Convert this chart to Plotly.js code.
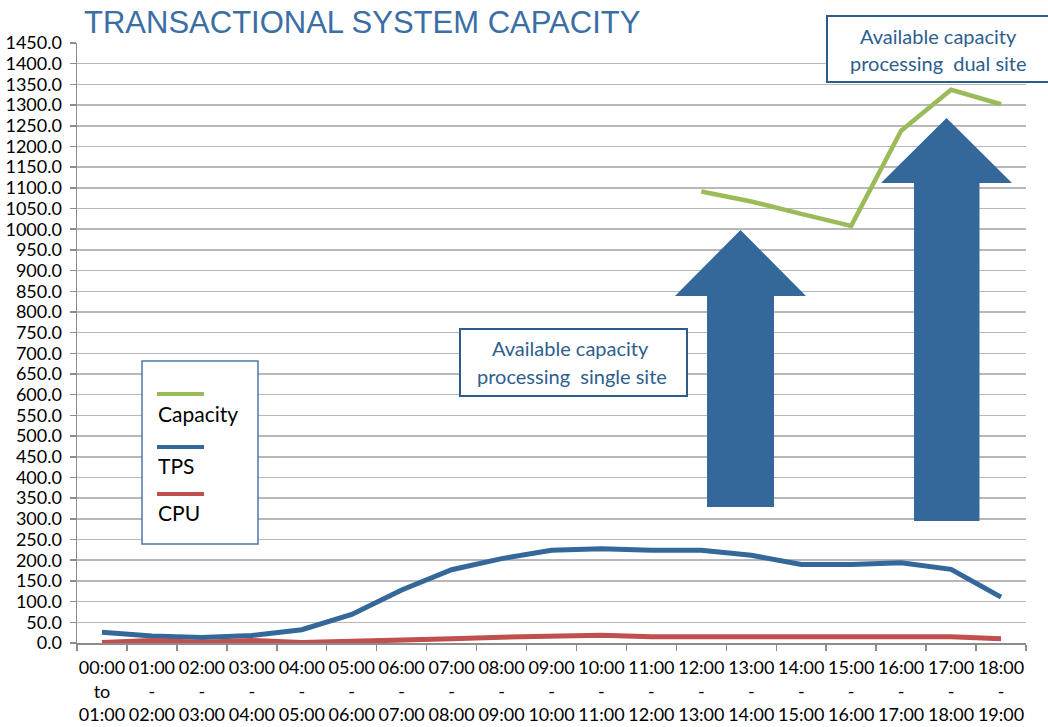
<!DOCTYPE html>
<html>
<head>
<meta charset="utf-8">
<script src="https://cdn.plot.ly/plotly-3.0.1.min.js"></script>
<style>
html,body{margin:0;padding:0;background:#fff;}
#chart{width:1048px;height:727px;}
</style>
</head>
<body>
<div id="chart"></div>
<script>
// ---- data ----
const categories = [
  "00:00<br>to<br>01:00","01:00<br>-<br>02:00","02:00<br>-<br>03:00","03:00<br>-<br>04:00",
  "04:00<br>-<br>05:00","05:00<br>-<br>06:00","06:00<br>-<br>07:00","07:00<br>-<br>08:00",
  "08:00<br>-<br>09:00","09:00<br>-<br>10:00","10:00<br>-<br>11:00","11:00<br>-<br>12:00",
  "12:00<br>-<br>13:00","13:00<br>-<br>14:00","14:00<br>-<br>15:00","15:00<br>-<br>16:00",
  "16:00<br>-<br>17:00","17:00<br>-<br>18:00","18:00<br>-<br>19:00"
];
const capacity = [null,null,null,null,null,null,null,null,null,null,null,null,
  1091,1067,1037,1008,1238,1337,1302];
const tps = [26,17,13,18,32,69,128,177,204,224,228,224,224,212,190,190,194,178,111];
const cpu = [1,6,2,6,1,5,9,10,14,15,19,15,15,15,15,15,15,15,10];
const yTickMin = 0, yTickMax = 1450, yTickStep = 50;

// ---- layout geometry (pixels) ----
const W = 1048, H = 727;
const L = 77, R = 1026, T = 43, B = 643;
const px = x => (x - L) / (R - L);
const py = y => (B - y) / (B - T);
const FONT = "Lato, 'Open Sans', sans-serif";
const BLUE = "#34679A";

function arrowPath(tipX, tipY, headL, headR, headY, bodyL, bodyR, bottom) {
  const pts = [[tipX,tipY],[headR,headY],[bodyR,headY],[bodyR,bottom],[bodyL,bottom],[bodyL,headY],[headL,headY]];
  return "M" + pts.map(p => px(p[0]).toFixed(5) + "," + py(p[1]).toFixed(5)).join(" L") + " Z";
}

const traces = [
  {x: categories, y: tps, name: "TPS", type: "scatter", mode: "lines",
   line: {color: BLUE, width: 5}},
  {x: categories, y: cpu, name: "CPU", type: "scatter", mode: "lines",
   line: {color: "#C0504D", width: 5}},
  {x: categories, y: capacity, name: "Capacity", type: "scatter", mode: "lines",
   connectgaps: false, line: {color: "#9BBB59", width: 4.5}}
];

const shapes = [
  // arrows
  {type: "path", xref: "paper", yref: "paper", layer: "above",
   path: arrowPath(740.5, 230, 675, 806, 296, 707, 774, 507),
   fillcolor: BLUE, line: {width: 0}},
  {type: "path", xref: "paper", yref: "paper", layer: "above",
   path: arrowPath(946.5, 118, 881, 1012, 183, 914, 979.5, 521),
   fillcolor: BLUE, line: {width: 0}},
  // text boxes
  {type: "rect", xref: "paper", yref: "paper", layer: "above",
   x0: px(460), x1: px(687), y0: py(329), y1: py(396),
   fillcolor: "#fff", line: {color: "#2C5C8C", width: 2}},
  {type: "rect", xref: "paper", yref: "paper", layer: "above",
   x0: px(827), x1: px(1054), y0: py(16), y1: py(82),
   fillcolor: "#fff", line: {color: "#2C5C8C", width: 2}},
  // legend box
  {type: "rect", xref: "paper", yref: "paper", layer: "above",
   x0: px(142), x1: px(258), y0: py(361), y1: py(544),
   fillcolor: "#fff", line: {color: "#4A78A8", width: 1.5}},
  {type: "line", xref: "paper", yref: "paper", layer: "above",
   x0: px(157), x1: px(204), y0: py(394), y1: py(394), line: {color: "#9BBB59", width: 4}},
  {type: "line", xref: "paper", yref: "paper", layer: "above",
   x0: px(157), x1: px(204), y0: py(447), y1: py(447), line: {color: BLUE, width: 4}},
  {type: "line", xref: "paper", yref: "paper", layer: "above",
   x0: px(157), x1: px(204), y0: py(494), y1: py(494), line: {color: "#C0504D", width: 4}}
];

function txt(text, x, y, size, color, xanchor) {
  return {text: text, xref: "paper", yref: "paper", x: px(x), y: py(y),
    xanchor: xanchor || "center", yanchor: "middle", showarrow: false,
    font: {family: FONT, size: size, color: color}};
}

const annotations = [
  {text: "TRANSACTIONAL SYSTEM CAPACITY", xref: "paper", yref: "paper",
   x: px(82), y: py(22), xanchor: "left", yanchor: "middle", showarrow: false,
   font: {family: "'Liberation Sans Narrow', 'Liberation Sans', sans-serif", size: 31, color: "#3A6EA5"}},
  txt("Available capacity", 570, 348, 20, "#2E5E8E"),
  txt("processing&nbsp; single site", 572, 376, 20, "#2E5E8E"),
  txt("Available capacity", 938, 36, 20, "#2E5E8E"),
  txt("processing&nbsp; dual site", 938, 63, 20, "#2E5E8E"),
  txt("Capacity", 156, 413, 21, "#000", "left"),
  txt("TPS", 156, 465, 21, "#000", "left"),
  txt("CPU", 156, 512, 21, "#000", "left")
];

const layout = {
  width: W, height: H,
  margin: {l: L, r: W - R, t: T, b: H - B, pad: 0},
  paper_bgcolor: "#fff", plot_bgcolor: "#fff",
  showlegend: false,
  font: {family: FONT, size: 18, color: "#000"},
  xaxis: {
    type: "category", range: [-0.5, categories.length - 0.5],
    showgrid: false, zeroline: false,
    showline: true, linecolor: "#8C8C8C", linewidth: 1.5,
    ticks: "outside", tickson: "boundaries", ticklen: 6, tickcolor: "#8C8C8C", tickwidth: 1.5,
    tickfont: {family: FONT, size: 18, color: "#000"}, tickangle: 0,
    ticklabelstandoff: 8,
    fixedrange: true
  },
  yaxis: {
    range: [yTickMin, yTickMax], autorange: false,
    tickmode: "linear", tick0: yTickMin, dtick: yTickStep, tickformat: ".1f",
    showgrid: true, gridcolor: "#B8B8B8", gridwidth: 1.5,
    zeroline: false, showline: true, linecolor: "#8C8C8C", linewidth: 1.5,
    ticks: "outside", ticklen: 6, tickcolor: "#8C8C8C", tickwidth: 1.5,
    tickfont: {family: FONT, size: 18, color: "#000"},
    ticklabelstandoff: 4,
    fixedrange: true
  },
  shapes: shapes,
  annotations: annotations
};

Plotly.newPlot("chart", traces, layout, {displayModeBar: false, staticPlot: true});
</script>
</body>
</html>
